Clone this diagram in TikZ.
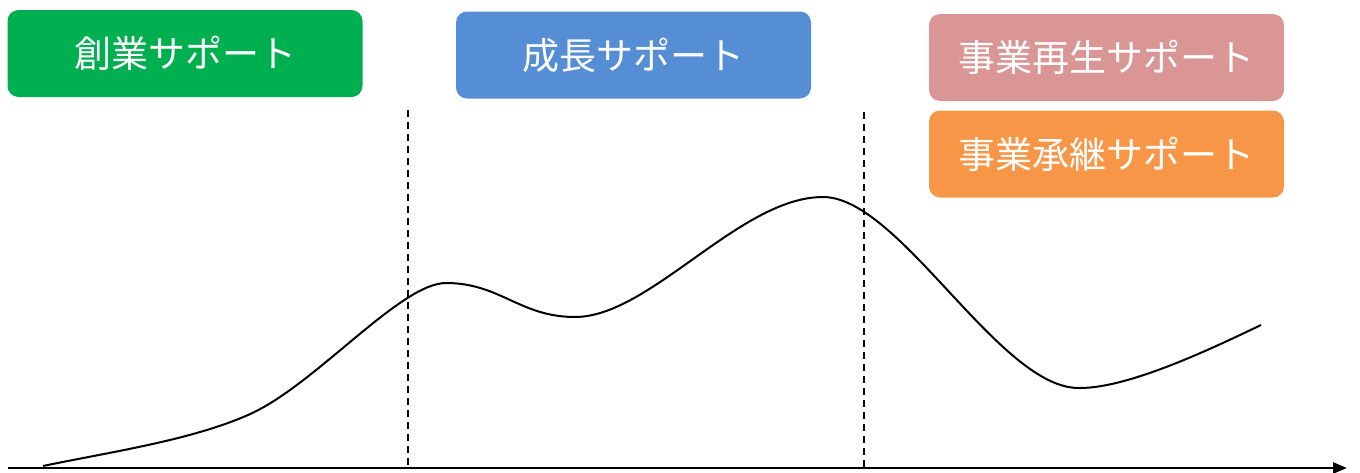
\documentclass[tikz,border=0pt]{standalone}
\usepackage{fontspec}
\newfontfamily\jpfont{Noto Sans CJK JP}
\usepackage{tikz}
\usetikzlibrary{arrows.meta}

\definecolor{sogyo}{HTML}{00B050}
\definecolor{seicho}{HTML}{558ED5}
\definecolor{saisei}{HTML}{D99694}
\definecolor{shokei}{HTML}{F79646}

\begin{document}
\begin{tikzpicture}[x=1pt,y=-1pt,>={Triangle[length=14pt,width=11pt]},
                    semithick]
  \tikzstyle{support}=[rounded corners=11pt,draw=none,text=white,
                       minimum width=355pt,minimum height=87pt,inner sep=0pt,
                       font=\jpfont\fontsize{37}{40}\selectfont]
  \tikzstyle{phase}=[line width=1.4pt,dash pattern=on 7pt off 5pt]

  \useasboundingbox (0,0) rectangle (1360,472);

  \node[support,fill=sogyo]  (sogyo)  at (185,53.5)  {創業サポート};
  \node[support,fill=seicho] (seicho) at (633.5,55)  {成長サポート};
  \node[support,fill=saisei] (saisei) at (1106.5,57.5) {事業再生サポート};
  \node[support,fill=shokei] (shokei) at (1106.5,154) {事業承継サポート};

  \coordinate  (O) at (8,468);
  \coordinate  (X) at (1347,468);
  \coordinate  (Ptop) at (408,110);
  \coordinate  (Pbot) at (408,468);
  \coordinate  (Qtop) at (864,112);
  \coordinate  (Qbot) at (864,468);

  % curve through the phases
  \coordinate  (start)   at (43,466);
  \coordinate  (bend)    at (248,415);
  \coordinate  (peakA)   at (446,283);
  \coordinate  (dipA)    at (575,317);
  \coordinate  (peakB)   at (823,197);
  \coordinate  (dipB)    at (1080,388);
  \coordinate  (finish)  at (1261,325);

  \draw[->,line width=2.4pt] (O) -- (X);

  \path[phase] (Ptop) edge (Pbot)
               (Qtop) edge (Qbot);

  \draw[line width=2pt]
    (start) .. controls (110,452) and (190,440.5) .. (bend)
            .. controls (314,386.5) and (400,283) .. (peakA)
            .. controls (500,283) and (520,317) .. (dipA)
            .. controls (650,317) and (740,197) .. (peakB)
            .. controls (900,197) and (1000,390) .. (dipB)
            .. controls (1130,388) and (1215,347) .. (finish);

\end{tikzpicture}
\end{document}
